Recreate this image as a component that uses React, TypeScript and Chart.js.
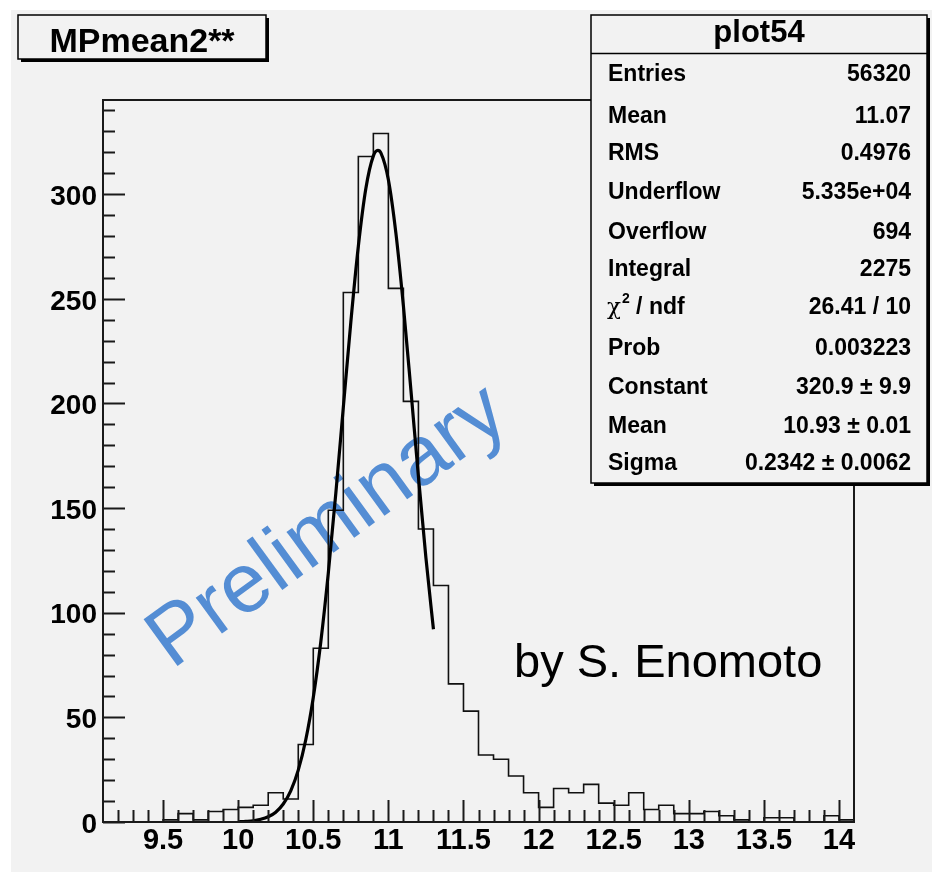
import React, { useEffect, useRef } from "react";
import { Chart, registerables } from "chart.js";

Chart.register(...registerables);

// ---------- data ----------
const titleText = "MPmean2**";
const statsTitle = "plot54";
const statLabels = ["Entries", "Mean", "RMS", "Underflow", "Overflow", "Integral", "CHI", "Prob", "Constant", "Mean", "Sigma"];
const statValues = ["56320", "11.07", "0.4976", "5.335e+04", "694", "2275", "26.41 / 10", "0.003223", "320.9 \u00b1 9.9", "10.93 \u00b1 0.01", "0.2342 \u00b1 0.0062"];
const watermarkText = "Preliminary";
const authorText = "by S. Enomoto";

// lower edges of the 0.1-wide bins
const binLowEdges = [
  9.1, 9.2, 9.3, 9.4, 9.5, 9.6, 9.7, 9.8, 9.9, 10.0,
  10.1, 10.2, 10.3, 10.4, 10.5, 10.6, 10.7, 10.8, 10.9, 11.0,
  11.1, 11.2, 11.3, 11.4, 11.5, 11.6, 11.7, 11.8, 11.9, 12.0,
  12.1, 12.2, 12.3, 12.4, 12.5, 12.6, 12.7, 12.8, 12.9, 13.0,
  13.1, 13.2, 13.3, 13.4, 13.5, 13.6, 13.7, 13.8, 13.9, 14.0,
];
const lastBinHighEdge = 14.1;
const binCounts = [
  0, 0, 0, 0, 1, 4, 1, 5, 6, 7,
  8, 14, 11, 37, 83, 149, 253, 318, 329, 255,
  201, 140, 113, 66, 53, 32, 30, 22, 14, 7,
  16, 14, 18, 9, 8, 14, 6, 8, 4, 4,
  5, 3, 1, 0, 2, 2, 0, 0, 3, 1,
];

// fitted gaussian curve
const fitX = [10.0, 10.05, 10.1, 10.15, 10.2, 10.25, 10.3, 10.35, 10.4, 10.45, 10.5, 10.55, 10.6, 10.65, 10.7, 10.75, 10.8, 10.85, 10.9, 10.93, 10.95, 11.0, 11.05, 11.1, 11.15, 11.2, 11.25, 11.3];
const fitY = [0.1, 0.3, 0.6, 1.3, 2.5, 4.7, 8.6, 14.9, 24.8, 39.3, 59.5, 86.0, 118.9, 157.0, 198.1, 238.9, 275.1, 302.7, 318.3, 320.9, 319.7, 306.9, 281.4, 246.6, 206.4, 165.1, 126.2, 92.1];

const xMin = 9.1;
const xMax = 14.1;
const yMin = 0;
const yMax = 345;
const xTickValues = [9.5, 10, 10.5, 11, 11.5, 12, 12.5, 13, 13.5, 14];
const yTickValues = [0, 50, 100, 150, 200, 250, 300];
const xMinorStep = 0.1;
const yMinorStep = 10;

// ---------- style / layout ----------
const FONT = "'Liberation Sans', Arial, Helvetica, sans-serif";
const BG = "#f2f2f2";
const statRowBaselines = [81, 123, 160, 199, 239, 276, 314, 355, 394, 433, 470];

const rootPlugin = {
  id: "rootStyle",
  beforeDraw(chart: any) {
    const ctx = chart.ctx;
    ctx.save();
    ctx.fillStyle = "#ffffff";
    ctx.fillRect(0, 0, chart.width, chart.height);
    ctx.fillStyle = BG;
    ctx.fillRect(11, 10, chart.width - 11, chart.height - 10);
    ctx.restore();
  },
  beforeDatasetsDraw(chart: any) {
    const ctx = chart.ctx;
    ctx.save();
    ctx.translate(172, 670);
    ctx.rotate((-36 * Math.PI) / 180);
    ctx.font = `84px ${FONT}`;
    ctx.fillStyle = "rgb(84,141,212)";
    ctx.textBaseline = "alphabetic";
    ctx.textAlign = "left";
    ctx.fillText(watermarkText, 0, 0);
    ctx.restore();
  },
  afterDatasetsDraw(chart: any) {
    const ctx = chart.ctx;
    const a = chart.chartArea;
    const xs = chart.scales.x;
    const ys = chart.scales.y;
    ctx.save();
    ctx.strokeStyle = "#1a1a1a";
    ctx.lineWidth = 2;
    ctx.strokeRect(a.left, a.top, a.right - a.left, a.bottom - a.top);
    ctx.lineWidth = 2;
    ctx.beginPath();
    // y ticks
    for (let v = yMin; v <= yMax + 1e-9; v += yMinorStep) {
      const major = yTickValues.some((t) => Math.abs(t - v) < 1e-6);
      const py = Math.round(ys.getPixelForValue(v)) + 0.5;
      ctx.moveTo(a.left, py);
      ctx.lineTo(a.left + (major ? 22 : 12), py);
    }
    // x ticks
    const n = Math.round((xMax - xMin) / xMinorStep);
    for (let i = 1; i < n; i++) {
      const v = xMin + i * xMinorStep;
      const major = xTickValues.some((t) => Math.abs(t - v) < 1e-6);
      const px = Math.round(xs.getPixelForValue(v)) + 0.5;
      ctx.moveTo(px, a.bottom);
      ctx.lineTo(px, a.bottom - (major ? 22 : 12));
    }
    ctx.stroke();
    ctx.restore();
  },
  afterDraw(chart: any) {
    const ctx = chart.ctx;
    ctx.save();
    // title box
    ctx.fillStyle = "#000";
    ctx.fillRect(21, 18, 248, 44);
    ctx.fillStyle = BG;
    ctx.fillRect(18, 15, 248, 44);
    ctx.strokeStyle = "#000";
    ctx.lineWidth = 1.5;
    ctx.strokeRect(18, 15, 248, 44);
    ctx.fillStyle = "#000";
    ctx.font = `bold 34px ${FONT}`;
    ctx.textAlign = "center";
    ctx.textBaseline = "alphabetic";
    ctx.fillText(titleText, 142, 51.5);

    // author text
    ctx.font = `47px ${FONT}`;
    ctx.textAlign = "left";
    ctx.fillText(authorText, 514, 677);

    // stats box
    const sx = 591, sy = 15, sw = 336, sh = 468;
    ctx.fillStyle = "#000";
    ctx.fillRect(sx + 3, sy + 3, sw, sh);
    ctx.fillStyle = BG;
    ctx.fillRect(sx, sy, sw, sh);
    ctx.strokeStyle = "#000";
    ctx.lineWidth = 1.5;
    ctx.strokeRect(sx, sy, sw, sh);
    ctx.beginPath();
    ctx.moveTo(sx, 53.5);
    ctx.lineTo(sx + sw, 53.5);
    ctx.stroke();
    ctx.fillStyle = "#000";
    ctx.font = `bold 31px ${FONT}`;
    ctx.textAlign = "center";
    ctx.fillText(statsTitle, sx + sw / 2, 42);

    for (let i = 0; i < statLabels.length; i++) {
      const y = statRowBaselines[i];
      ctx.textAlign = "left";
      if (statLabels[i] === "CHI") {
        ctx.font = `23px 'DejaVu Serif', serif`;
        ctx.fillText("\u03c7", 607, y);
        const w1 = ctx.measureText("\u03c7").width;
        ctx.font = `bold 14px ${FONT}`;
        ctx.fillText("2", 607 + w1 + 1, y - 11);
        const w2 = ctx.measureText("2").width;
        ctx.font = `bold 23px ${FONT}`;
        ctx.fillText(" / ndf", 607 + w1 + 1 + w2, y);
      } else {
        ctx.font = `bold 23px ${FONT}`;
        ctx.fillText(statLabels[i], 608, y);
      }
      ctx.font = `bold 23px ${FONT}`;
      ctx.textAlign = "right";
      ctx.fillText(statValues[i], 911, y);
    }
    ctx.restore();
  },
};

export default function App() {
  const canvasRef = useRef<HTMLCanvasElement | null>(null);

  useEffect(() => {
    const canvas = canvasRef.current;
    if (!canvas) return;

    const histPoints = binLowEdges.map((x, i) => ({ x, y: binCounts[i] }));
    histPoints.push({ x: lastBinHighEdge, y: binCounts[binCounts.length - 1] });
    const fitPoints = fitX.map((x, i) => ({ x, y: fitY[i] }));

    const chart = new Chart(canvas, {
      type: "line",
      data: {
        datasets: [
          {
            label: "hist",
            data: histPoints,
            stepped: "before",
            borderColor: "#111",
            borderWidth: 1.6,
            pointRadius: 0,
            fill: false,
            order: 2,
          },
          {
            label: "fit",
            data: fitPoints,
            borderColor: "#000",
            borderWidth: 3.2,
            pointRadius: 0,
            cubicInterpolationMode: "monotone",
            fill: false,
            order: 1,
          },
        ],
      },
      options: {
        animation: false,
        responsive: false,
        devicePixelRatio: 1,
        events: [],
        layout: { padding: { left: 0, top: 100, right: 78, bottom: 0 } },
        plugins: {
          legend: { display: false },
          tooltip: { enabled: false },
          title: { display: false },
        },
        scales: {
          x: {
            type: "linear",
            min: xMin,
            max: xMax,
            grid: { display: false, drawTicks: false },
            border: { display: false },
            afterBuildTicks: (s: any) => {
              s.ticks = xTickValues.map((v) => ({ value: v }));
            },
            afterFit: (s: any) => {
              s.height = 50;
            },
            ticks: {
              autoSkip: false,
              maxRotation: 0,
              minRotation: 0,
              padding: 2,
              color: "#000",
              font: { family: FONT, size: 29, weight: "bold" },
              callback: (v: any) => String(v),
            },
          },
          y: {
            type: "linear",
            min: yMin,
            max: yMax,
            grid: { display: false, drawTicks: false },
            border: { display: false },
            afterBuildTicks: (s: any) => {
              s.ticks = yTickValues.map((v) => ({ value: v }));
            },
            afterFit: (s: any) => {
              s.width = 103;
            },
            ticks: {
              padding: 6,
              labelOffset: 3,
              color: "#000",
              font: { family: FONT, size: 28, weight: "bold" },
              callback: (v: any) => String(v),
            },
          },
        },
      },
      plugins: [rootPlugin],
    } as any);

    return () => chart.destroy();
  }, []);

  return (
    <div style={{ position: "absolute", left: 0, top: 0, width: 932, height: 872 }}>
      <canvas ref={canvasRef} width={932} height={872} style={{ display: "block" }} />
    </div>
  );
}
